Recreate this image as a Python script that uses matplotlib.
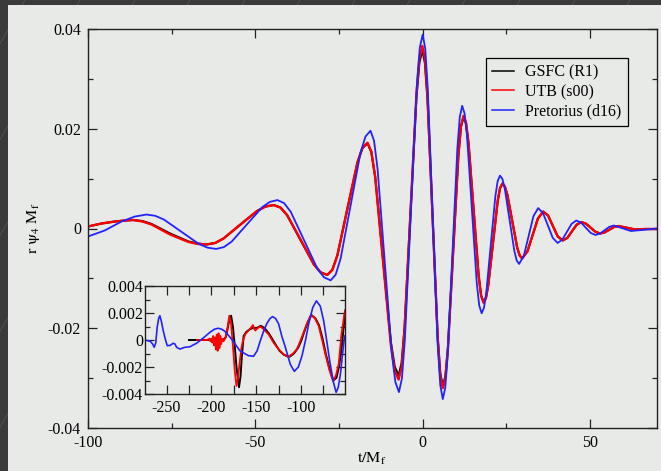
"""Waveform comparison r psi_4 M_f vs t/M_f, with an inset for early times."""

import matplotlib
matplotlib.use("Agg")
import matplotlib.pyplot as plt
from matplotlib.lines import Line2D
from matplotlib.patches import Rectangle
from matplotlib.ticker import FuncFormatter, MultipleLocator

# ---- main panel data ----
t_main = [-100, -96, -92, -89, -86.5,
          -83.75, -81, -75.5, -70, -67.25, -64.5,
          -62, -59.5, -54.5, -49.5, -47, -44.5,
          -42.5, -40.5, -36.5, -32.5, -30.5, -28.5,
          -27.0, -25.5, -22.5, -19.5, -18.0, -16.5,
          -15.34, -14.18, -11.85, -9.53, -8.36, -7.2,
          -6.31, -5.43, -3.65, -1.88, -0.99, -0.1,
          0.66, 1.43, 2.95, 4.48, 5.24, 6.0,
          6.78, 7.55, 9.1, 10.65, 11.43, 12.2,
          12.95, 13.7, 15.2, 16.7, 17.45, 18.2,
          18.9, 19.6, 21.0, 22.4, 23.1, 23.8,
          24.54, 25.28, 26.75, 28.22, 28.96, 29.7,
          31.28, 32.85, 34.42, 36.0,
          37.45, 38.9, 40.35, 41.8,
          43.2, 44.6, 46.0, 47.4,
          48.8, 50.2, 51.6, 53.0,
          54.38, 55.75, 57.12, 58.5,
          61.0, 63.5, 66.5, 70.0]

gsfc = [0.0004, 0.0010, 0.0014, 0.0016, 0.0017,
        0.0015, 0.0009, -0.0010, -0.0026, -0.0030, -0.0032,
        -0.0029, -0.0020, 0.00075, 0.0035, 0.0044, 0.0047,
        0.0042, 0.00265, -0.0023, -0.00725, -0.0088, -0.0093,
        -0.0083, -0.0054, 0.0039, 0.0132, 0.0161, 0.0171,
        0.0153, 0.0103, -0.0062, -0.0227, -0.0277, -0.0295,
        -0.0270, -0.0199, 0.0032, 0.0262, 0.0333, 0.0358,
        0.0332, 0.0259, 0.0021, -0.0217, -0.0290, -0.0316,
        -0.0296, -0.0237, -0.0046, 0.0145, 0.0204, 0.0224,
        0.0210, 0.0170, 0.0038, -0.0094, -0.0134, -0.0148,
        -0.0139, -0.0113, -0.0029, 0.0055, 0.0081, 0.0090,
        0.0084, 0.0068, 0.0015, -0.0038, -0.0054, -0.0060,
        -0.0046, -0.0013, 0.0020, 0.0034,
        0.0026, 0.0005, -0.0016, -0.0024,
        -0.0019, -0.00055, 0.00076, 0.0013,
        0.00096, 0.00015, -0.00066, -0.0010,
        -0.00078, -0.00025, 0.00028, 0.0005,
        0.00015, -0.0002, -0.0001, -0.0001]

utb = [0.0004, 0.0010, 0.0014, 0.0016, 0.0017,
       0.0014, 0.0008, -0.0012, -0.0027, -0.0031, -0.0032,
       -0.0029, -0.0020, 0.0008, 0.0035, 0.0044, 0.0047,
       0.0042, 0.0027, -0.0022, -0.0072, -0.0088, -0.0093,
       -0.0083, -0.0054, 0.0040, 0.0133, 0.0162, 0.0172,
       0.0154, 0.0102, -0.0066, -0.0233, -0.0285, -0.0303,
       -0.0278, -0.0205, 0.0032, 0.0268, 0.0341, 0.0366,
       0.0340, 0.0266, 0.0023, -0.0220, -0.0294, -0.0320,
       -0.0299, -0.0240, -0.0047, 0.0146, 0.0205, 0.0226,
       0.0212, 0.0171, 0.0039, -0.0094, -0.0135, -0.0149,
       -0.0139, -0.0113, -0.0029, 0.0055, 0.0081, 0.0090,
       0.0084, 0.0068, 0.0015, -0.0038, -0.0054, -0.0060,
       -0.0046, -0.0013, 0.0020, 0.0034,
       0.0026, 0.0005, -0.0016, -0.0024,
       -0.0019, -0.00055, 0.00076, 0.0013,
       0.00096, 0.00015, -0.00066, -0.0010,
       -0.00078, -0.00025, 0.00028, 0.0005,
       0.00015, -0.0002, -0.0001, -0.0001]

t_pret = [-100, -95, -90, -86, -82.5,
          -79.9, -77.3, -72.1, -66.9, -64.3, -61.7,
          -59.41, -57.12, -52.55, -47.98, -45.69, -43.4,
          -41.41, -39.42, -35.45, -31.48, -29.49, -27.5,
          -26.01, -24.52, -21.55, -18.58, -17.09, -15.6,
          -14.54, -13.48, -11.35, -9.23, -8.16, -7.1,
          -6.21, -5.33, -3.55, -1.78, -0.89, 0.0,
          0.75, 1.5, 3.0, 4.5, 5.25, 6.0,
          6.73, 7.45, 8.9, 10.35, 11.08, 11.8,
          12.52, 13.25, 14.7, 16.15, 16.88, 17.6,
          18.29, 18.98, 20.35, 21.72, 22.41, 23.1,
          23.81, 24.52, 25.95, 27.38, 28.09, 28.8,
          30.22, 31.65, 33.08, 34.5,
          35.95, 37.4, 38.85, 40.3,
          41.7, 43.1, 44.5, 45.9,
          47.32, 48.75, 50.18, 51.6,
          52.98, 54.35, 55.72, 57.1,
          59.65, 62.2, 65.5, 70.0]

pret = [-0.0016, -0.0004, 0.0014, 0.0024, 0.0028,
        0.00254, 0.00179, -0.00065, -0.00309, -0.00384, -0.0041,
        -0.00373, -0.00266, 0.0008, 0.00426, 0.00533, 0.0057,
        0.00509, 0.00334, -0.00235, -0.00804, -0.00979, -0.0104,
        -0.00926, -0.00601, 0.0046, 0.01521, 0.01846, 0.0196,
        0.01761, 0.01192, -0.0066, -0.02512, -0.03081, -0.0328,
        -0.03008, -0.0223, 0.00305, 0.0284, 0.03618, 0.0389,
        0.03612, 0.02819, 0.00235, -0.02349, -0.03142, -0.0342,
        -0.03197, -0.02559, -0.0048, 0.01599, 0.02237, 0.0246,
        0.02302, 0.01851, 0.0038, -0.01091, -0.01542, -0.0170,
        -0.01595, -0.01296, -0.0032, 0.00656, 0.00955, 0.0106,
        0.00993, 0.00801, 0.00175, -0.00451, -0.00643, -0.0071,
        -0.00546, -0.0015, 0.00246, 0.0041,
        0.00307, 0.0006, -0.00187, -0.0029,
        -0.00224, -0.00065, 0.00094, 0.0016,
        0.00118, 0.00015, -0.00088, -0.0013,
        -0.0010, -0.00035, 0.00032, 0.0006,
        0.00005, -0.0005, -0.0003, 0.0]

# ---- inset data (early times) ----
t_gsfc_in = [-225, -210, -195, -187, -184, -182, -180, -178, -176, -174,
             -172, -169.2, -167.5, -166, -164, -161, -157, -153, -149, -145,
             -141, -136, -128.7, -124, -119, -112.7, -108, -103.5, -100, -96.5,
             -92.5, -88.5, -84, -80, -76, -72.5, -68, -64, -60.5, -57.5,
             -54.5, -51]
gsfc_in = [0.0, 0.0, 0.0, 0.0, 0.0002, 0.0008, 0.0015, 0.0018, 0.0010, -0.0004,
           -0.0020, -0.0035, -0.0027, -0.0012, 0.0003, 0.0006, 0.0008, 0.0009, 0.0009, 0.00105,
           0.0009, 0.0005, -0.0003, -0.0008, -0.0011, -0.00124, -0.0010, -0.0006, -0.0001, 0.0006,
           0.0013, 0.00185, 0.0016, 0.0011, 0.0001, -0.0010, -0.0022, -0.0030, -0.0028, -0.0019,
           -0.0004, 0.0020]

t_utb_in = [-216, -205, -202, -201, -200, -199, -198, -197, -196, -195,
            -194, -193, -192, -191, -190, -189, -188, -186.5, -184, -182,
            -180, -178, -176, -174, -172, -170.5, -168.5, -166.5, -165, -162.5,
            -160, -158.5, -156, -153.6, -152, -151, -148, -145.4, -141.7, -136,
            -130.6, -126, -121.2, -116.5, -113.8, -109, -104.5, -101, -97.1, -93,
            -88.9, -84.5, -80.4, -76.5, -72.9, -68.5, -64.3, -61, -58, -55,
            -51]
utb_in = [0.0, 0.0, 0.0001, -0.0001, 0.0001, -0.0002, 0.0003, -0.0004, 0.0002, -0.0007,
          0.0004, -0.0008, 0.0005, -0.0006, 0.0003, -0.0003, 0.0001, -0.0001, 0.0002, 0.0009,
          0.0018, 0.0012, -0.0004, -0.0022, -0.0034, -0.0029, -0.0017, -0.0006, -0.0001, 0.0004,
          0.0006, 0.0007, 0.0009, 0.0011, 0.0008, 0.0007, 0.0009, 0.0010, 0.0008, 0.0004,
          -0.0002, -0.0006, -0.00096, -0.0012, -0.00124, -0.0010, -0.00067, -0.0001, 0.00057, 0.0013,
          0.00187, 0.0016, 0.00106, 0.0000, -0.00104, -0.0022, -0.00306, -0.0026, -0.00178, 0.0004,
          0.0022]

t_pret_in = [-274, -268, -265.5, -263.7, -262, -260.4, -258.8, -257.4, -255.8, -253.7,
             -251.5, -249.2, -246, -242.5, -240.5, -238.8, -235, -229.5, -223.9, -216.5,
             -209, -201.6, -196.5, -192.3, -188.5, -184.8, -177.5, -168.1, -158.8, -152.9,
             -149, -145.4, -141.5, -138, -134.5, -131.7, -128.5, -125, -121.5, -117.5,
             -112, -107.5, -103, -98.9, -95, -91.5, -87, -82.9, -78.5, -74.8,
             -71.5, -68.1, -64, -60.9, -58.5, -56.1, -54, -51.5]
pret_in = [0.0, -0.0001, -0.0003, -0.00054, -0.0002, 0.00094, 0.0016, 0.0018, 0.0014, 0.0007,
           0.0001, -0.00042, -0.0004, -0.00024, -0.0003, -0.00054, -0.00067, -0.00054, -0.0005, -0.00024,
           0.00015, 0.00057, 0.0008, 0.00087, 0.0008, 0.00064, 0.00007, -0.0008, -0.00116, -0.0012,
           -0.0008, -0.00005, 0.0007, 0.00124, 0.0016, 0.00173, 0.0016, 0.00119, 0.0003, -0.00054,
           -0.0018, -0.00232, -0.002, -0.00116, 0.0000, 0.00119, 0.0024, 0.0029, 0.0025, 0.00143,
           0.0000, -0.00153, -0.0031, -0.00388, -0.0035, -0.00252, -0.0012, 0.0003]

labels = ["GSFC (R1)", "UTB (s00)", "Pretorius (d16)"]
colors = ["#000000", "#ff0000", "#2222ff"]

PANEL = "#e8eae8"
W, H = 661, 471
FS = 11.5


def fmt(v, _):
    if abs(v) < 1e-12:
        return "0"
    return f"{v:g}"


def main() -> None:
    plt.rcParams["font.family"] = ["Liberation Serif", "DejaVu Serif"]
    plt.rcParams["mathtext.fontset"] = "stix"
    plt.rcParams["axes.unicode_minus"] = False

    fig = plt.figure(figsize=(W / 100, H / 100), dpi=100)
    fig.patch.set_facecolor("#3a3a3a")

    # faint diagonal stripes on the dark frame, light panel on top
    for x0 in range(-300, 700, 55):
        fig.add_artist(Line2D([x0 / W, (x0 + 270) / W], [0, 1],
                              transform=fig.transFigure, color="#7a7a7a",
                              lw=0.6, alpha=0.4, zorder=-2))
    fig.add_artist(Rectangle((8 / W, 0), 1, 1 - 5 / H, transform=fig.transFigure,
                             facecolor=PANEL, edgecolor="none", zorder=-1))

    ax = fig.add_axes([88 / W, 1 - 428 / H, (657 - 88) / W, (428 - 29) / H])
    ax.set_facecolor(PANEL)
    ax.plot(t_main, gsfc, color=colors[0], lw=1.5, label=labels[0],
            solid_joinstyle="round")
    ax.plot(t_main, utb, color=colors[1], lw=1.7, label=labels[1],
            solid_joinstyle="round")
    ax.plot(t_pret, pret, color=colors[2], lw=1.3, label=labels[2],
            solid_joinstyle="round")

    ax.set_xlim(-100, 70)
    ax.set_ylim(-0.04, 0.04)
    ax.xaxis.set_major_locator(MultipleLocator(50))
    ax.xaxis.set_minor_locator(MultipleLocator(25))
    ax.yaxis.set_major_locator(MultipleLocator(0.02))
    ax.yaxis.set_minor_locator(MultipleLocator(0.01))
    ax.xaxis.set_major_formatter(FuncFormatter(fmt))
    ax.yaxis.set_major_formatter(FuncFormatter(fmt))
    ax.tick_params(which="both", direction="in", top=True, right=True,
                   labelsize=FS, width=0.9, color="#222222")
    ax.tick_params(which="major", length=6.5, pad=5)
    ax.tick_params(which="minor", length=3.5)
    for s in ax.spines.values():
        s.set_linewidth(1.0)
        s.set_color("#222222")

    ax.set_xlabel(r"$\mathrm{t/M_f}$", fontsize=FS)
    ax.set_ylabel(r"$\mathrm{r\ ψ_4\ M_f}$", fontsize=FS)
    ax.xaxis.set_label_coords(0.499, -0.058)
    ax.yaxis.set_label_coords(-0.081, 0.5)

    leg = ax.legend(loc="upper right", bbox_to_anchor=(0.949, 0.927),
                    borderaxespad=0, fancybox=False, framealpha=1,
                    facecolor=PANEL, edgecolor="black", fontsize=FS,
                    handlelength=1.35, handletextpad=0.72, labelspacing=0.22,
                    borderpad=0.4)
    leg.get_frame().set_linewidth(0.9)
    for h in leg.get_lines():
        h.set_linewidth(1.1)

    # inset
    axin = fig.add_axes([145 / W, 1 - 394 / H, 200 / W, 108 / H])
    axin.set_facecolor(PANEL)
    axin.plot(t_gsfc_in, gsfc_in, color=colors[0], lw=1.4, solid_joinstyle="round")
    axin.plot(t_utb_in, utb_in, color=colors[1], lw=1.3, solid_joinstyle="round")
    axin.plot(t_pret_in, pret_in, color=colors[2], lw=1.2, solid_joinstyle="round")
    axin.set_xlim(-274, -51)
    axin.set_ylim(-0.004, 0.004)
    axin.xaxis.set_major_locator(MultipleLocator(50))
    axin.xaxis.set_minor_locator(MultipleLocator(25))
    axin.yaxis.set_major_locator(MultipleLocator(0.002))
    axin.yaxis.set_minor_locator(MultipleLocator(0.001))
    axin.xaxis.set_major_formatter(FuncFormatter(fmt))
    axin.yaxis.set_major_formatter(FuncFormatter(fmt))
    axin.tick_params(which="both", direction="in", top=True, right=True,
                     labelsize=FS, width=0.9, color="#222222")
    axin.tick_params(axis="x", which="both", length=6.5, pad=4)
    axin.tick_params(axis="y", which="major", length=6.5, pad=1.5)
    axin.tick_params(axis="y", which="minor", length=3.5)
    for s in axin.spines.values():
        s.set_linewidth(1.0)
        s.set_color("#222222")

    fig.savefig("out.png", dpi=100, facecolor=fig.get_facecolor())


if __name__ == "__main__":
    main()
